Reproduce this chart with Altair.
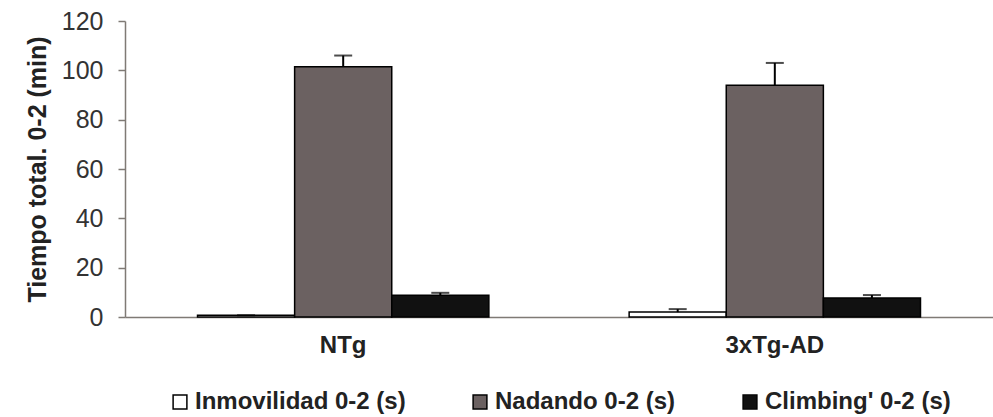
import altair as alt
import pandas as pd

groups = ["NTg", "3xTg-AD"]
series = ["Inmovilidad 0-2 (s)", "Nadando 0-2 (s)", "Climbing' 0-2 (s)"]
colors = ["#ffffff", "#6b6161", "#111111"]

inmovilidad = [0.7, 2.0]
inmovilidad_err = [0.0, 1.2]
nadando = [101.5, 94.0]
nadando_err = [4.5, 9.0]
climbing = [8.8, 7.7]
climbing_err = [1.0, 1.2]

rows = []
for vals, errs, s in [(inmovilidad, inmovilidad_err, series[0]),
                      (nadando, nadando_err, series[1]),
                      (climbing, climbing_err, series[2])]:
    for g, v, e in zip(groups, vals, errs):
        rows.append({"grupo": g, "serie": s, "valor": v, "sup": v + e})
df = pd.DataFrame(rows)

FONT = "Liberation Sans"
axis_color = "#7f7a75"

x_enc = alt.X(
    "grupo:N",
    sort=groups,
    title=None,
    scale=alt.Scale(paddingInner=0.325, paddingOuter=0.168),
    axis=alt.Axis(
        labelAngle=0, ticks=False, labelFont=FONT, labelFontSize=24,
        labelFontWeight="bold", labelColor="#222", labelPadding=16,
        domainColor=axis_color, domainWidth=1.5,
    ),
)
xoff = alt.XOffset("serie:N", sort=series, scale=alt.Scale(paddingInner=0, paddingOuter=0))

base = alt.Chart(df)

bars = base.mark_bar(stroke="black", strokeWidth=1.5).encode(
    x=x_enc,
    xOffset=xoff,
    y=alt.Y(
        "valor:Q",
        scale=alt.Scale(domain=[0, 120], nice=False),
        title="Tiempo total.  0-2 (min)",
        axis=alt.Axis(
            values=[0, 20, 40, 60, 80, 100, 120], grid=False,
            labelFont=FONT, labelFontSize=25, labelColor="#333",
            labelPadding=15, tickSize=7, tickColor=axis_color, tickWidth=1.5,
            domainColor=axis_color, domainWidth=1.5,
            titleFont=FONT, titleFontSize=25, titleFontWeight="bold",
            titleColor="#222", titlePadding=11,
        ),
    ),
    color=alt.Color(
        "serie:N",
        sort=series,
        scale=alt.Scale(domain=series, range=colors),
        legend=alt.Legend(
            orient="none", legendX=43, legendY=369, direction="horizontal",
            title=None, symbolType="square", symbolSize=190,
            symbolStrokeColor="black", symbolStrokeWidth=1.5,
            labelFont=FONT, labelFontSize=24, labelFontWeight="bold",
            labelColor="#222", labelLimit=400, columnPadding=62,
            labelOffset=3,
        ),
    ),
)

rules = base.mark_rule(color="black", strokeWidth=2).encode(
    x=alt.X("grupo:N", sort=groups),
    xOffset=xoff,
    y="valor:Q",
    y2="sup:Q",
)

caps = base.mark_tick(color="black", thickness=2, size=18).encode(
    x=alt.X("grupo:N", sort=groups),
    xOffset=xoff,
    y="sup:Q",
)

chart = (
    alt.layer(bars, rules, caps)
    .properties(
        width=868, height=296,
        autosize=alt.AutoSizeParams(type="none"),
        padding={"left": 125, "top": 21, "right": 0, "bottom": 100},
        background="white",
    )
    .configure_view(stroke=None)
)

chart.save("out.html", embed_options={"renderer": "svg", "actions": False})
